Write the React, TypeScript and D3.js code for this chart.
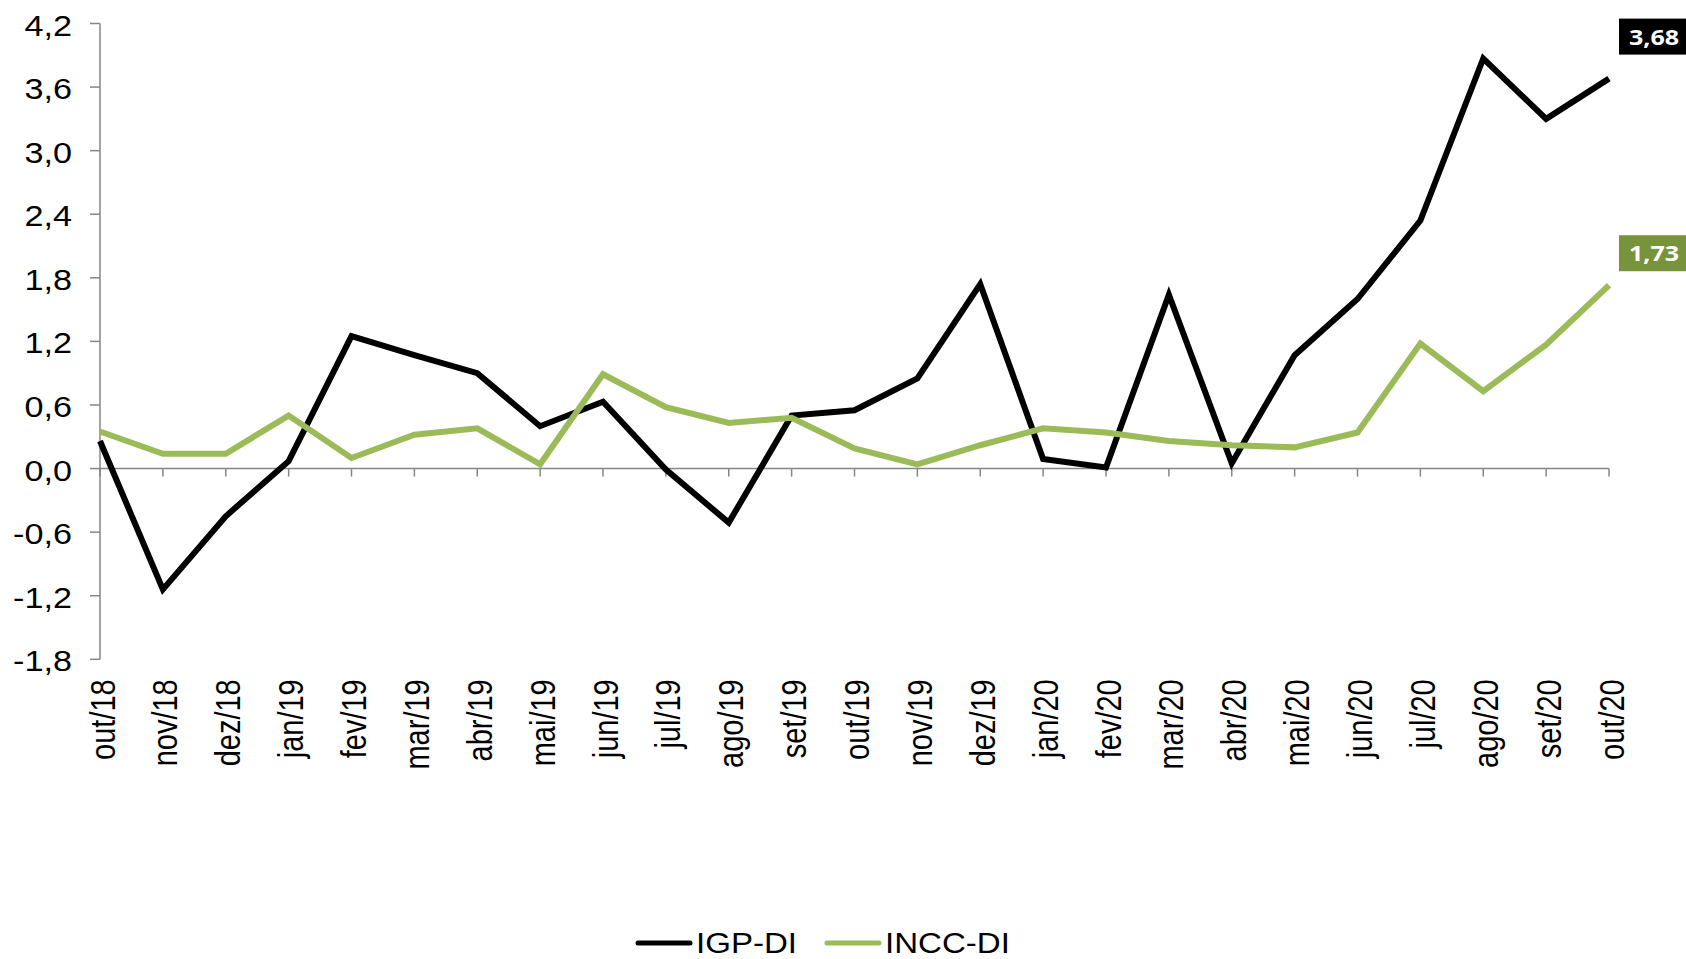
import React from "react";
import { scaleLinear, scalePoint, line } from "d3";

// months, out/18 .. out/20
const months = [
  "out/18", "nov/18", "dez/18", "jan/19", "fev/19", "mar/19", "abr/19", "mai/19",
  "jun/19", "jul/19", "ago/19", "set/19", "out/19", "nov/19", "dez/19", "jan/20",
  "fev/20", "mar/20", "abr/20", "mai/20", "jun/20", "jul/20", "ago/20", "set/20", "out/20",
];

const igpDi = [
  0.26, -1.14, -0.45, 0.07, 1.25, 1.07, 0.9, 0.4, 0.63, -0.01, -0.51, 0.5, 0.55,
  0.85, 1.74, 0.09, 0.01, 1.64, 0.05, 1.07, 1.6, 2.34, 3.87, 3.3, 3.68,
];

const inccDi = [
  0.35, 0.14, 0.14, 0.5, 0.1, 0.32, 0.38, 0.04, 0.89, 0.58, 0.43, 0.48, 0.19,
  0.04, 0.22, 0.38, 0.34, 0.26, 0.22, 0.2, 0.34, 1.18, 0.73, 1.17, 1.73,
];

const yTicks = [-1.8, -1.2, -0.6, 0, 0.6, 1.2, 1.8, 2.4, 3.0, 3.6, 4.2];

const seriesNames = ["IGP-DI", "INCC-DI"];
const seriesColors = ["#000000", "#9BBB59"];
const boxColors = ["#000000", "#77933C"];

const W = 1686;
const H = 959;
const left = 100;
const right = 1609;
const top = 23.5;
const bottom = 659.3;
const sx = 1.14; // text in the original is a bit wide

const fmt = (v: number, d: number) => v.toFixed(d).replace(".", ",");

export default function App() {
  const x = scalePoint<string>().domain(months).range([left, right]);
  const y = scaleLinear().domain([-1.8, 4.2]).range([bottom, top]);
  const lineGen = line<number>()
    .x((_, i) => x(months[i]) as number)
    .y((d) => y(d));

  const series = [igpDi, inccDi];
  const axisColor = "#868686";
  const font = "'Liberation Sans', Arial, sans-serif";
  const labelOffsets = [-42, -32];

  return (
    <svg
      width={W}
      height={H}
      style={{ position: "absolute", left: 0, top: 0, background: "#fff" }}
    >
      {/* y axis */}
      <line x1={left} x2={left} y1={top} y2={bottom} stroke={axisColor} strokeWidth={1.5} />
      {yTicks.map((t) => (
        <g key={t}>
          <line x1={left - 10} x2={left} y1={y(t)} y2={y(t)} stroke={axisColor} strokeWidth={1.5} />
          <text
            transform={`translate(${left - 28},${y(t)}) scale(${sx},1)`}
            dy="0.4em"
            textAnchor="end"
            fontFamily={font}
            fontSize={30}
            fill="#000"
          >
            {fmt(t, 1)}
          </text>
        </g>
      ))}

      {/* x axis at zero */}
      <line x1={left} x2={right} y1={y(0)} y2={y(0)} stroke={axisColor} strokeWidth={1.5} />
      {months.map((m) => (
        <g key={m}>
          <line
            x1={x(m)}
            x2={x(m)}
            y1={y(0)}
            y2={y(0) + 8}
            stroke={axisColor}
            strokeWidth={1.5}
          />
          <text
            transform={`translate(${(x(m) as number) + 2},${bottom + 20}) scale(1.2,1) rotate(-90)`}
            dy="0.36em"
            textAnchor="end"
            fontFamily={font}
            fontSize={29}
            fill="#000"
          >
            {m}
          </text>
        </g>
      ))}

      {/* lines */}
      {series.map((s, i) => (
        <path
          key={seriesNames[i]}
          d={lineGen(s) || ""}
          fill="none"
          stroke={seriesColors[i]}
          strokeWidth={6}
          strokeLinejoin="miter"
        />
      ))}

      {/* last value labels */}
      {series.map((s, i) => {
        const v = s[s.length - 1];
        const cy = y(v) + labelOffsets[i];
        return (
          <g key={"lbl" + i}>
            <rect x={1619} y={cy - 18} width={W - 1619} height={36} fill={boxColors[i]} />
            <text
              transform={`translate(1654,${cy}) scale(${sx},1)`}
              dy="0.37em"
              textAnchor="middle"
              fontFamily="'Open Sans', sans-serif"
              fontWeight="bold"
              fontSize={22}
              fill="#fff"
            >
              {fmt(v, 2)}
            </text>
          </g>
        );
      })}

      {/* legend */}
      {seriesNames.map((n, i) => {
        const lx = [638, 827][i];
        return (
          <g key={n}>
            <line
              x1={lx}
              x2={lx + 52}
              y1={943}
              y2={943}
              stroke={seriesColors[i]}
              strokeWidth={5}
              strokeLinecap="round"
            />
            <text
              transform={`translate(${lx + 58},943) scale(${sx},1)`}
              dy="0.36em"
              fontFamily={font}
              fontSize={29}
              fill="#000"
            >
              {n}
            </text>
          </g>
        );
      })}
    </svg>
  );
}
